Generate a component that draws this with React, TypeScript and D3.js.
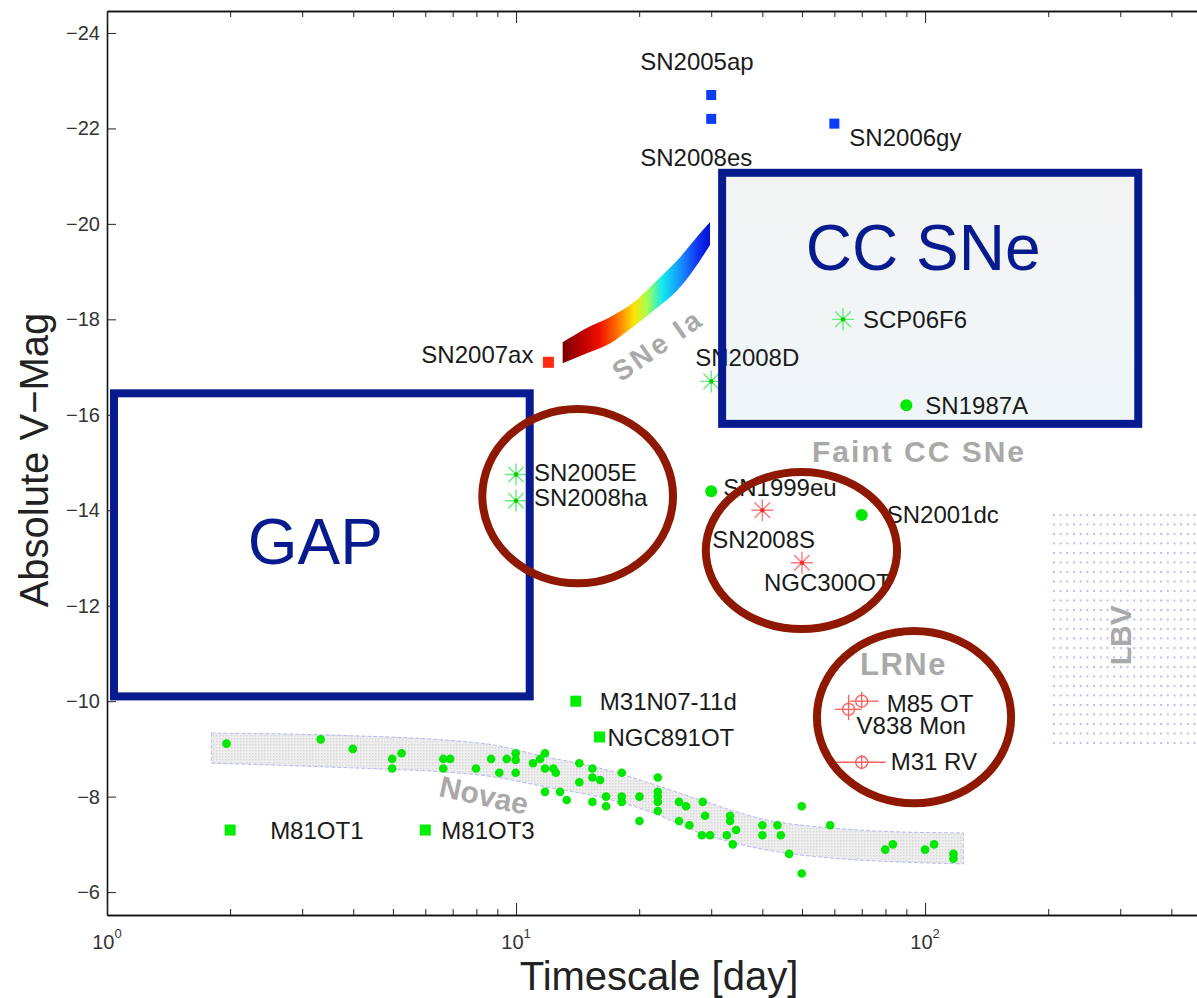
import React, { useEffect, useRef } from "react";
import * as d3 from "d3";

const W = 1197;
const H = 998;

// axis ticks
const xMajor = [1, 10, 100];
const xMinor = [2, 3, 4, 5, 6, 7, 8, 9, 20, 30, 40, 50, 60, 70, 80, 90, 200, 300, 400];
const xTickLabels = ["0", "1", "2"];
const yTicks = [-24, -22, -20, -18, -16, -14, -12, -10, -8, -6];

// named transients (timescale in days, absolute V mag)
const blueSquares = [
  { name: "SN2005ap", t: 30, mag: -22.7 },
  { name: "SN2008es", t: 30, mag: -22.2 },
  { name: "SN2006gy", t: 60, mag: -22.1 },
];
const redSquares = [{ name: "SN2007ax", t: 12, mag: -17.1 }];
const greenStars = [
  { name: "SN2008D", t: 30, mag: -16.7 },
  { name: "SCP06F6", t: 63, mag: -18.0 },
  { name: "SN2005E", t: 10, mag: -14.75 },
  { name: "SN2008ha", t: 10, mag: -14.2 },
];
const greenDots = [
  { name: "SN1987A", t: 90, mag: -16.2 },
  { name: "SN1999eu", t: 30, mag: -14.4 },
  { name: "SN2001dc", t: 70, mag: -13.9 },
];
const redStars = [
  { name: "SN2008S", t: 40, mag: -14.0 },
  { name: "NGC300OT", t: 50, mag: -12.9 },
];
const greenSquares = [
  { name: "M31N07-11d", t: 14, mag: -10.0 },
  { name: "NGC891OT", t: 16, mag: -9.25 },
  { name: "M81OT1", t: 2, mag: -7.3 },
  { name: "M81OT3", t: 6, mag: -7.3 },
];
const lrne = [
  { name: "M85 OT", t: 70, mag: -10.0, tLo: 65.4, tHi: 77, mLo: -10.2, mHi: -9.85 },
  { name: "V838 Mon", t: 65, mag: -9.83, tLo: 60.2, tHi: 70, mLo: -10.13, mHi: -9.6 },
  { name: "M31 RV", t: 70, mag: -8.72, tLo: 60.2, tHi: 80, mLo: -8.87, mHi: -8.57 },
];

// novae
const novaeT = [1.96, 3.33, 3.99, 4.98, 5.25, 4.98, 6.64, 6.9, 6.64, 7.98, 8.69, 9.1, 9.49, 9.98, 9.98, 9.98,
  11.0, 11.45, 11.77, 11.77, 12.34, 12.51, 11.77, 12.81, 13.3, 14.28, 14.28, 15.37, 15.37, 15.37, 16.05,
  18.13, 16.6, 16.6, 18.13, 18.13, 20.03, 20.03, 22.21, 22.21, 22.21, 22.21, 22.21, 25.03, 26.04, 25.03,
  26.53, 28.6, 28.98, 28.45, 29.81, 33.36, 33.36, 34.51, 32.75, 33.87, 40.02, 40.02, 43.55, 44.39, 46.51,
  49.94, 49.94, 58.6, 79.9, 83.4, 100, 105.2, 117.3, 117.3];
const novaeMag = [-9.11, -9.2, -9.0, -8.79, -8.91, -8.59, -8.79, -8.79, -8.59, -8.59, -8.79, -8.5, -8.79, -8.91, -8.77, -8.5,
  -8.7, -8.79, -8.91, -8.59, -8.59, -8.5, -8.1, -8.1, -7.93, -8.7, -8.3, -8.59, -8.4, -7.89, -8.35,
  -8.5, -8.0, -7.8, -8.0, -7.89, -8.0, -7.49, -8.4, -8.1, -8.0, -7.89, -7.7, -7.89, -7.8, -7.49,
  -7.4, -7.89, -7.6, -7.19, -7.19, -7.6, -7.49, -7.3, -7.19, -7.0, -7.4, -7.19, -7.4, -7.19, -6.8,
  -7.8, -6.39, -7.4, -6.89, -7.0, -6.89, -7.0, -6.8, -6.7];

// novae band
const novBandT = [1.8, 3.5, 8.2, 11.9, 16.0, 21.3, 28.2, 41.1, 59.6, 86.9, 124];
const novBandTop = [-9.33, -9.29, -9.12, -8.83, -8.6, -8.28, -7.93, -7.51, -7.34, -7.26, -7.24];
const novBandBot = [-8.7, -8.62, -8.45, -8.2, -7.99, -7.68, -7.24, -6.88, -6.71, -6.63, -6.59];

// SNe Ia band
const iaT = [13.0, 14.9, 17.0, 19.3, 22.1, 24.8, 28.2, 29.8];
const iaTop = [-17.52, -17.82, -18.05, -18.34, -18.82, -19.24, -19.81, -20.04];
const iaBot = [-17.08, -17.29, -17.5, -17.84, -18.24, -18.61, -19.24, -19.56];

// regions
const gapBox = { t0: 1.04, t1: 10.8, m0: -16.45, m1: -10.1 };
const ccBox = { t0: 31.9, t1: 332, m0: -21.07, m1: -15.81 };
const lbvBox = { t0: 200, t1: 500, m0: -14.05, m1: -8.97 };
const rings = [
  { t0: 8.27, t1: 24.2, m0: -16.12, m1: -12.47 },
  { t0: 29.1, t1: 85.4, m0: -14.8, m1: -11.51 },
  { t0: 54.4, t1: 162.3, m0: -11.47, m1: -7.86 },
];

// label offsets in px: dx, dy, anchor
const labelPos: Record<string, [number, number, string]> = {
  SN2005ap: [-71, -25, "start"],
  SN2008es: [-71, 47, "start"],
  SN2006gy: [15, 22, "start"],
  SN2007ax: [-15, 1, "end"],
  SN2008D: [-16, -15, "start"],
  SCP06F6: [20, 9, "start"],
  SN1987A: [19, 9, "start"],
  SN2005E: [18, 7, "start"],
  SN2008ha: [18, 5, "start"],
  SN1999eu: [12, 5, "start"],
  SN2001dc: [25, 8, "start"],
  SN2008S: [-50, 38, "start"],
  NGC300OT: [-38, 28, "start"],
  "M31N07-11d": [24, 9, "start"],
  NGC891OT: [8, 9, "start"],
  M81OT1: [40, 9, "start"],
  M81OT3: [16, 9, "start"],
  "M85 OT": [25, 11, "start"],
  "V838 Mon": [8, 25, "start"],
  "M31 RV": [29, 8, "start"],
};

const FONT = '"Liberation Sans", Arial, Helvetica, sans-serif';
const NAVY = "#071b8e";
const RING = "#8f1800";
const GRAY = "#a9a9a9";

export default function App() {
  const ref = useRef<SVGSVGElement>(null);

  useEffect(() => {
    const svg = d3.select(ref.current);
    svg.selectAll("*").remove();

    const x = d3.scaleLog().domain([1, 500]).range([107, 1211]);
    const y = d3.scaleLinear().domain([-5.52, -24.46]).range([915, 11]);

    const defs = svg.append("defs");
    const np = defs.append("pattern").attr("id", "novPat").attr("width", 3).attr("height", 3)
      .attr("patternUnits", "userSpaceOnUse");
    np.append("rect").attr("width", 3).attr("height", 3).attr("fill", "#eeeeee");
    np.append("rect").attr("width", 1.3).attr("height", 1.3).attr("fill", "#d6d6d6");
    const lp = defs.append("pattern").attr("id", "lbvPat").attr("width", 6.7).attr("height", 9.5)
      .attr("patternUnits", "userSpaceOnUse");
    lp.append("circle").attr("cx", 2).attr("cy", 2).attr("r", 1).attr("fill", "#a3a8f2");

    const ig = defs.append("linearGradient").attr("id", "iaGrad").attr("gradientUnits", "userSpaceOnUse")
      .attr("x1", x(iaT[0])).attr("x2", x(iaT[iaT.length - 1])).attr("y1", 0).attr("y2", 0);
    [["0", "#7a0000"], ["0.12", "#b40000"], ["0.25", "#f01000"], ["0.37", "#ff7000"], ["0.48", "#ffe000"],
      ["0.57", "#a8ff50"], ["0.68", "#10e8f0"], ["0.8", "#1890ff"], ["0.92", "#1030f0"], ["1", "#0010d0"]]
      .forEach(([o, c]) => ig.append("stop").attr("offset", o).attr("stop-color", c));

    const cg = defs.append("linearGradient").attr("id", "ccGrad").attr("x1", 0).attr("x2", 0).attr("y1", 0).attr("y2", 1);
    cg.append("stop").attr("offset", "0").attr("stop-color", "#f3f4f4");
    cg.append("stop").attr("offset", "1").attr("stop-color", "#eff6f8");

    // novae band
    const novArea = d3.area<number>()
      .x((d) => x(d))
      .y0((d, i) => y(novBandBot[i]))
      .y1((d, i) => y(novBandTop[i]))
      .curve(d3.curveMonotoneX);
    svg.append("path").attr("d", novArea(novBandT))
      .attr("fill", "url(#novPat)")
      .attr("stroke", "#b4baf0").attr("stroke-width", 1).attr("stroke-dasharray", "4,2");

    // LBV region
    svg.append("rect")
      .attr("x", x(lbvBox.t0)).attr("y", y(lbvBox.m0))
      .attr("width", x(lbvBox.t1) - x(lbvBox.t0)).attr("height", y(lbvBox.m1) - y(lbvBox.m0))
      .attr("fill", "url(#lbvPat)");

    // CC SNe box fill (under the points)
    svg.append("rect")
      .attr("x", x(ccBox.t0)).attr("y", y(ccBox.m0))
      .attr("width", x(ccBox.t1) - x(ccBox.t0)).attr("height", y(ccBox.m1) - y(ccBox.m0))
      .attr("fill", "url(#ccGrad)");

    // SNe Ia band
    const iaArea = d3.area<number>()
      .x((d) => x(d))
      .y0((d, i) => y(iaBot[i]))
      .y1((d, i) => y(iaTop[i]))
      .curve(d3.curveMonotoneX);
    svg.append("path").attr("d", iaArea(iaT)).attr("fill", "url(#iaGrad)");

    // axes
    const axFont = (g: any) => {
      g.attr("font-family", FONT);
      g.selectAll("path.domain").attr("stroke", "#111").attr("stroke-width", 1.6);
      g.selectAll(".tick line").attr("stroke", "#222").attr("stroke-width", 1);
    };
    svg.append("g").attr("transform", "translate(107,0)")
      .call(d3.axisLeft(y).tickValues(yTicks).tickSizeInner(-9).tickSizeOuter(0).tickPadding(7)
        .tickFormat((d: any) => "\u2212" + Math.abs(d)))
      .call(axFont)
      .selectAll("text").attr("font-size", 20).attr("fill", "#333");

    svg.append("g").attr("transform", "translate(0,915)")
      .call(d3.axisBottom(x).tickValues(xMajor).tickSizeInner(-12).tickSizeOuter(0).tickFormat(() => ""))
      .call(axFont);
    svg.append("g").attr("transform", "translate(0,915)")
      .call(d3.axisBottom(x).tickValues(xMinor).tickSizeInner(-6).tickSizeOuter(0).tickFormat(() => ""))
      .call(axFont);
    svg.append("g").attr("transform", "translate(0,11)")
      .call(d3.axisTop(x).tickValues(xMajor).tickSizeInner(-12).tickSizeOuter(0).tickFormat(() => ""))
      .call(axFont);
    svg.append("g").attr("transform", "translate(0,11)")
      .call(d3.axisTop(x).tickValues(xMinor).tickSizeInner(-6).tickSizeOuter(0).tickFormat(() => ""))
      .call(axFont);

    xMajor.forEach((v, i) => {
      const t = svg.append("text").attr("x", x(v)).attr("y", 949).attr("text-anchor", "middle")
        .attr("font-family", FONT).attr("font-size", 20).attr("fill", "#333").text("10");
      t.append("tspan").attr("dy", -11).attr("font-size", 13).text(xTickLabels[i]);
    });

    svg.append("text").attr("x", 659).attr("y", 990).attr("text-anchor", "middle")
      .attr("font-family", FONT).attr("font-size", 40).attr("fill", "#222").text("Timescale [day]");
    svg.append("text").attr("transform", "translate(48,460) rotate(-90)").attr("text-anchor", "middle")
      .attr("font-family", FONT).attr("font-size", 40).attr("fill", "#222").text("Absolute V\u2212Mag");

    // novae dots
    svg.append("g").selectAll("circle").data(novaeT).enter().append("circle")
      .attr("cx", (d) => x(d)).attr("cy", (d, i) => y(novaeMag[i])).attr("r", 4.3).attr("fill", "#00e800");

    const star = (r: number) => {
      const k = r * 0.707;
      return `M${-r},0H${r}M0,${-r}V${r}M${-k},${-k}L${k},${k}M${-k},${k}L${k},${-k}`;
    };

    const labels: { name: string; t: number; mag: number }[] = [];

    blueSquares.forEach((d) => {
      svg.append("rect").attr("x", x(d.t) - 5).attr("y", y(d.mag) - 5).attr("width", 10).attr("height", 10).attr("fill", "#0a3cf8");
      labels.push(d);
    });
    redSquares.forEach((d) => {
      svg.append("rect").attr("x", x(d.t) - 5.5).attr("y", y(d.mag) - 5.5).attr("width", 11).attr("height", 11).attr("fill", "#ff2a10");
      labels.push(d);
    });
    greenSquares.forEach((d) => {
      svg.append("rect").attr("x", x(d.t) - 5.5).attr("y", y(d.mag) - 5.5).attr("width", 11).attr("height", 11).attr("fill", "#00ee00");
      labels.push(d);
    });
    greenDots.forEach((d) => {
      svg.append("circle").attr("cx", x(d.t)).attr("cy", y(d.mag)).attr("r", 6).attr("fill", "#00e800");
      labels.push(d);
    });
    greenStars.forEach((d) => {
      svg.append("path").attr("transform", `translate(${x(d.t)},${y(d.mag)})`).attr("d", star(11))
        .attr("stroke", "#66ef77").attr("stroke-width", 1.4).attr("fill", "none");
      svg.append("circle").attr("cx", x(d.t)).attr("cy", y(d.mag)).attr("r", 2.2).attr("fill", "#00c800");
      labels.push(d);
    });
    redStars.forEach((d) => {
      svg.append("path").attr("transform", `translate(${x(d.t)},${y(d.mag)})`).attr("d", star(11))
        .attr("stroke", "#ff7a7a").attr("stroke-width", 1.4).attr("fill", "none");
      svg.append("circle").attr("cx", x(d.t)).attr("cy", y(d.mag)).attr("r", 2.2).attr("fill", "#ff2a2a");
      labels.push(d);
    });
    lrne.forEach((d) => {
      const cx = x(d.t), cy = y(d.mag);
      const g = svg.append("g").attr("stroke", "#ff5c5c").attr("stroke-width", 1.3).attr("fill", "none");
      g.append("line").attr("x1", x(d.tLo)).attr("x2", x(d.tHi)).attr("y1", cy).attr("y2", cy);
      g.append("line").attr("x1", cx).attr("x2", cx).attr("y1", y(d.mLo)).attr("y2", y(d.mHi));
      g.append("circle").attr("cx", cx).attr("cy", cy).attr("r", 6);
      labels.push(d);
    });

    labels.forEach((d) => {
      const [dx, dy, anchor] = labelPos[d.name];
      svg.append("text").attr("x", x(d.t) + dx).attr("y", y(d.mag) + dy).attr("text-anchor", anchor)
        .attr("font-family", FONT).attr("font-size", 24).attr("fill", "#1a1a1a").text(d.name);
    });

    // gray category labels
    const grayText = (txt: string, t: number, m: number, rot: number, size: number, ls: number, anchor: string) => {
      svg.append("text").attr("transform", `translate(${x(t)},${y(m)}) rotate(${rot})`)
        .attr("text-anchor", anchor).attr("dominant-baseline", anchor === "middle" ? "central" : "auto")
        .attr("font-family", FONT).attr("font-weight", "bold").attr("font-size", size)
        .attr("letter-spacing", ls).attr("fill", GRAY).text(txt);
    };
    grayText("SNe Ia", 22.2, -17.46, -35, 28, 3, "middle");
    grayText("Novae", 8.35, -8.03, 12, 30, 0, "middle");
    grayText("Faint CC SNe", 52.9, -15.01, 0, 30, 2, "start");
    grayText("LRNe", 69.3, -10.55, 0, 31, 1.5, "start");
    grayText("LBV", 300, -11.38, -90, 30, 0, "middle");

    // CC SNe box outline and GAP box
    svg.append("rect")
      .attr("x", x(ccBox.t0)).attr("y", y(ccBox.m0))
      .attr("width", x(ccBox.t1) - x(ccBox.t0)).attr("height", y(ccBox.m1) - y(ccBox.m0))
      .attr("fill", "none").attr("stroke", NAVY).attr("stroke-width", 8);
    svg.append("rect")
      .attr("x", x(gapBox.t0)).attr("y", y(gapBox.m0))
      .attr("width", x(gapBox.t1) - x(gapBox.t0)).attr("height", y(gapBox.m1) - y(gapBox.m0))
      .attr("fill", "none").attr("stroke", NAVY).attr("stroke-width", 8);

    svg.append("text").attr("x", x(3.23)).attr("y", y(-13.33)).attr("text-anchor", "middle").attr("dominant-baseline", "central")
      .attr("font-family", FONT).attr("font-size", 64).attr("fill", NAVY).text("GAP");
    svg.append("text").attr("x", x(98.9)).attr("y", y(-19.49)).attr("text-anchor", "middle").attr("dominant-baseline", "central")
      .attr("font-family", FONT).attr("font-size", 64).attr("fill", NAVY).text("CC SNe");

    // rings
    rings.forEach((r) => {
      const x0 = x(r.t0), x1 = x(r.t1), y0 = y(r.m0), y1 = y(r.m1);
      svg.append("ellipse").attr("cx", (x0 + x1) / 2).attr("cy", (y0 + y1) / 2)
        .attr("rx", (x1 - x0) / 2).attr("ry", (y1 - y0) / 2)
        .attr("fill", "none").attr("stroke", RING).attr("stroke-width", 8);
    });
  }, []);

  return (
    <svg ref={ref} width={W} height={H}
      style={{ position: "absolute", left: 0, top: 0, background: "#fff" }} />
  );
}
